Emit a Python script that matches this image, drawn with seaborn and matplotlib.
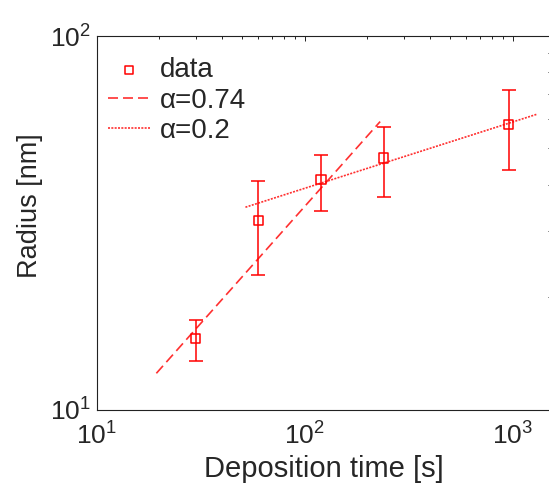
import numpy as np
import seaborn as sns
import matplotlib.pyplot as plt
from matplotlib.ticker import LogLocator, NullFormatter

# measured radius vs deposition time
dep_time = [30, 60, 120, 240, 960]
radius = [15.5, 32.0, 41.2, 47.1, 58.0]
radius_low = [13.5, 22.9, 34.0, 37.0, 43.8]
radius_high = [17.4, 40.9, 48.0, 57.2, 71.7]

# power-law fit lines (end points)
fit1_t = [19.4, 231]
fit1_r = [12.5, 59.0]
fit2_t = [52, 1306]
fit2_r = [34.8, 61.7]

sns.set_style('white')
plt.rcParams['font.family'] = ['Liberation Sans', 'DejaVu Sans']
plt.rcParams['mathtext.fontset'] = 'custom'
plt.rcParams['mathtext.rm'] = 'Liberation Sans'

fig = plt.figure(figsize=(5.49, 4.91), dpi=100)
ax = fig.add_axes([96.5 / 549, 1 - 409.5 / 491, 454.5 / 549, 373.5 / 491])
ax.set_xscale('log')
ax.set_yscale('log')

red = '#ff0000'
sns.scatterplot(x=dep_time, y=radius, marker='s', s=45, facecolors='none',
                edgecolors=red, linewidth=1.1, label='data', ax=ax, zorder=3)
sns.lineplot(x=fit1_t, y=fit1_r, color='#ff3030', lw=1.2,
             linestyle=(0, (6, 3)), label='α=0.74', ax=ax)
sns.lineplot(x=fit2_t, y=fit2_r, color='#ff3030', lw=1.2,
             linestyle=(0, (1.2, 0.8)), label='α=0.2', ax=ax)

yerr = [np.array(radius) - np.array(radius_low),
        np.array(radius_high) - np.array(radius)]
ax.errorbar(dep_time, radius, yerr=yerr, fmt='none', ecolor=red,
            elinewidth=1.1, capsize=4.7, capthick=1.1)

ax.set_xlim(10, 1531)
ax.set_ylim(10, 100)
ax.xaxis.set_minor_locator(LogLocator(base=10, subs=np.arange(2, 10)))
ax.yaxis.set_minor_locator(LogLocator(base=10, subs=np.arange(2, 10)))
ax.xaxis.set_minor_formatter(NullFormatter())
ax.yaxis.set_minor_formatter(NullFormatter())

for s in ax.spines.values():
    s.set_color('#222222')
    s.set_linewidth(0.8)
ax.tick_params(which='both', direction='in', top=True, right=True,
               color='#222222', width=0.7)
ax.tick_params(which='major', length=3.5, labelsize=19)
ax.tick_params(axis='x', which='major', pad=9)
ax.tick_params(axis='y', which='major', pad=4)
ax.tick_params(which='minor', length=2.5)

ax.set_xlabel('Deposition time [s]', fontsize=21, labelpad=4)
ax.set_ylabel('Radius [nm]', fontsize=19.5)
ax.yaxis.set_label_coords(-0.118, 0.545)

h, l = ax.get_legend_handles_labels()
order = [l.index('data'), l.index('α=0.74'), l.index('α=0.2')]
ax.legend([h[i] for i in order], [l[i] for i in order], loc='upper left',
          bbox_to_anchor=(0.026, 0.943), frameon=False, fontsize=20,
          borderpad=0, borderaxespad=0, handlelength=1.5,
          handletextpad=0.35, labelspacing=0.16, markerscale=0.8)

fig.savefig('out.png', dpi=100)
